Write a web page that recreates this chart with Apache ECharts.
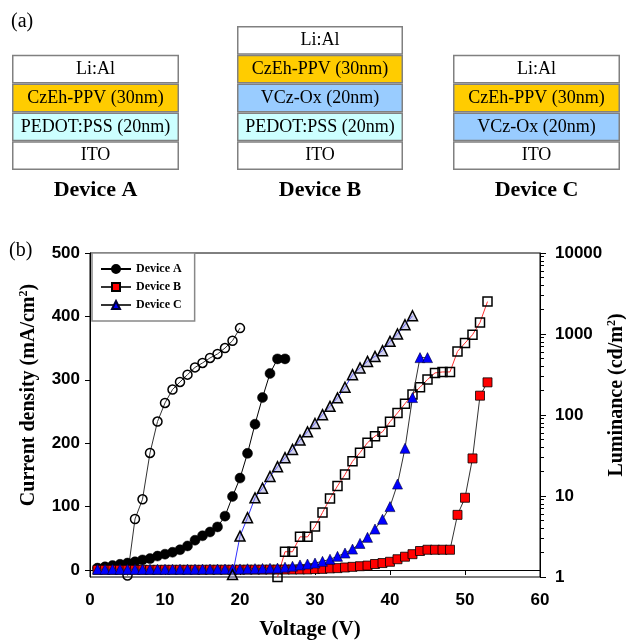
<!DOCTYPE html>
<html><head><meta charset="utf-8">
<script src="https://cdn.jsdelivr.net/npm/echarts@6/dist/echarts.min.js"></script>
<style>html,body{margin:0;padding:0;background:#fff}#c{width:626px;height:643px}</style>
</head><body><div id="c"></div>
<script>
// ---------- (a) device structures ----------
const deviceNames = ['Device A', 'Device B', 'Device C'];
const layersA = ['ITO', 'PEDOT:PSS (20nm)', 'CzEh-PPV (30nm)', 'Li:Al'];
const layersB = ['ITO', 'PEDOT:PSS (20nm)', 'VCz-Ox (20nm)', 'CzEh-PPV (30nm)', 'Li:Al'];
const layersC = ['ITO', 'VCz-Ox (20nm)', 'CzEh-PPV (30nm)', 'Li:Al'];
const layerUnit = 1;

// ---------- (b) axes ----------
const xTicks = [0, 10, 20, 30, 40, 50, 60];
const jTicks = [0, 100, 200, 300, 400, 500];
const lumMinorTicks = [2,3,4,5,6,7,8,9,20,30,40,50,60,70,80,90,200,300,400,500,600,700,800,900,2000,3000,4000,5000,6000,7000,8000,9000];

// ---------- (b) data ----------
// Device A current density (mA/cm2)
const vA_J = [1,2,3,4,5,6,7,8,9,10,11,12,13,14,15,16,17,18,19,20,21,22,23,24,25,26];
const jA   = [3,5,7,9,11,13,16,18,22,25,28,32,38,47,54,60,68,85,116,145,184,230,272,310,333,333];
// Device A luminance (cd/m2)
const vA_L = [5,6,7,8,9,10,11,12,13,14,15,16,17,18,19,20];
const lumA = [1.04,5.2,9.1,34,83,141,206,256,315,387,439,506,567,671,826,1183];

// Device B current density
const vB_J = [1,2,3,4,5,6,7,8,9,10,11,12,13,14,15,16,17,18,19,20,21,22,23,24,25,26,27,28,29,30,31,32,33,34,35,36,37,38,39,40,41,42,43,44,45,46,47,48,49,50,51,52,53];
const jB   = [0.3,0.3,0.3,0.3,0.3,0.3,0.3,0.3,0.3,0.4,0.4,0.4,0.4,0.4,0.4,0.5,0.5,0.5,0.5,0.5,0.6,0.6,0.6,0.7,0.7,0.8,0.8,0.9,1,1.5,1.8,2.6,3,4,5,6,7,9.5,11,13,17,21,25,30,32,32,32,32,87,114,176,275,296];
// Device B luminance
const vB_L = [25,26,27,28,29,30,31,32,33,34,35,36,37,38,39,40,41,42,43,44,45,46,47,48,49,50,51,52,53];
const lumB = [1,2.05,2.05,3.13,3.13,4.2,6.25,9.3,13.3,18.4,26.8,34.3,45.5,54.8,62,82.5,106,138,179,220,274,331,340,340,610,773,979,1387,2513];

// Device C current density
const vC_J = [1,2,3,4,5,6,7,8,9,10,11,12,13,14,15,16,17,18,19,20,21,22,23,24,25,26,27,28,29,30,31,32,33,34,35,36,37,38,39,40,41,42,43,44,45];
const jC   = [1.2,1.2,1.2,1.2,1.2,1.2,1.2,1.3,1.3,1.3,1.3,1.4,1.4,1.4,1.5,1.5,1.5,1.6,1.6,1.7,2,2.2,2.5,2.8,3,4.5,6,8,9.5,11,13.7,17,21.6,26.8,33,42,51.5,64.7,80,100,135.6,192,272,335,335];
// Device C luminance
const vC_L = [19,20,21,22,23,24,25,26,27,28,29,30,31,32,33,34,35,36,37,38,39,40,41,42,43];
const lumC = [1.07,3.2,5.4,9.5,12.5,17.4,23,29.7,37.6,49,62,78.6,101,128,163,220,315,381,459,529,622,811,1000,1300,1679];

// ---------- build ----------
const SERIF = 'Liberation Serif';
const SANS = 'Liberation Sans';
function zip(xs, ys) { return xs.map((x, i) => [x, ys[i]]); }
function layerColor(name) {
  if (name.startsWith('CzEh')) return '#ffcc00';
  if (name.startsWith('PEDOT')) return '#ccffff';
  if (name.startsWith('VCz')) return '#99ccff';
  return '#ffffff';
}
const stacks = [layersA, layersB, layersC];
const diagramGrids = [
  {left: 12, width: 167, top: 26, height: 144, outerBoundsMode: 'none'},
  {left: 237, width: 166, top: 26, height: 144, outerBoundsMode: 'none'},
  {left: 453, width: 167, top: 26, height: 144, outerBoundsMode: 'none'}
];
const grids = diagramGrids.concat([{left: 90, right: 86, top: 253, bottom: 66, show: true, borderColor: '#000', borderWidth: 1, outerBoundsMode: 'none', containLabel: false}]);

const xAxes = deviceNames.map((d, i) => ({
  type: 'category', gridIndex: i, data: [d],
  axisLine: {show: false}, axisTick: {show: false},
  axisLabel: {fontFamily: SERIF, fontWeight: 'bold', fontSize: 22, color: '#000', margin: 9}
}));
xAxes.push({
  type: 'value', gridIndex: 3, min: 0, max: 60, interval: 10,
  name: 'Voltage (V)', nameLocation: 'middle', nameGap: 42, nameMoveOverlap: false,
  nameTextStyle: {fontFamily: SERIF, fontWeight: 'bold', fontSize: 21, color: '#000', padding: [0, 10, 0, 0]},
  axisLine: {lineStyle: {color: '#000', width: 1}},
  axisTick: {length: 5, lineStyle: {color: '#000'}},
  axisLabel: {fontFamily: SANS, fontWeight: 'bold', fontSize: 17, color: '#000', margin: 15},
  splitLine: {show: false}
});

const yAxes = deviceNames.map((d, i) => ({type: 'value', gridIndex: i, min: 0, max: 5, show: false}));
yAxes.push({
  type: 'value', gridIndex: 3, min: -11, max: 500, position: 'left',
  name: 'Current density (mA/cm{sup|2})', nameLocation: 'middle', nameGap: 50, nameRotate: 90, nameMoveOverlap: false,
  nameTextStyle: {fontFamily: SERIF, fontWeight: 'bold', fontSize: 20, color: '#000', padding: [0, 0, 0, 40],
    rich: {sup: {fontFamily: SERIF, fontWeight: 'bold', fontSize: 12, color: '#000', padding: [0, 0, 10, 0]}}},
  axisLine: {show: true, lineStyle: {color: '#000', width: 1}},
  axisTick: {show: true, length: 5, customValues: jTicks, lineStyle: {color: '#000'}},
  axisLabel: {customValues: jTicks, fontFamily: SANS, fontWeight: 'bold', fontSize: 17, color: '#000', margin: 10},
  splitLine: {show: false}
});
yAxes.push({
  type: 'log', logBase: 10, gridIndex: 3, min: 1, max: 10000, position: 'right',
  name: 'Luminance (cd/m{sup|2})', nameLocation: 'middle', nameGap: 66, nameRotate: 90, nameMoveOverlap: false,
  nameTextStyle: {fontFamily: SERIF, fontWeight: 'bold', fontSize: 20, color: '#000', padding: [0, 0, 0, 40],
    rich: {sup: {fontFamily: SERIF, fontWeight: 'bold', fontSize: 12, color: '#000', padding: [0, 0, 10, 0]}}},
  axisLine: {show: true, lineStyle: {color: '#000', width: 1}},
  axisTick: {show: true, length: 6, lineStyle: {color: '#000'}},
  axisLabel: {fontFamily: SANS, fontWeight: 'bold', fontSize: 17, color: '#000', margin: 15, formatter: v => String(v)},
  splitLine: {show: false}
});
yAxes.push({
  type: 'log', logBase: 10, gridIndex: 3, min: 1, max: 10000, position: 'right',
  axisLine: {show: false},
  axisTick: {show: true, length: 4, customValues: lumMinorTicks, lineStyle: {color: '#000'}},
  axisLabel: {show: false}, splitLine: {show: false}
});

const series = [];
stacks.forEach((layers, gi) => {
  layers.forEach(name => {
    series.push({
      type: 'bar', name: name, xAxisIndex: gi, yAxisIndex: gi, stack: 'dev' + gi,
      barWidth: '100%', data: [layerUnit], silent: true,
      itemStyle: {color: layerColor(name), borderColor: '#808080', borderWidth: 1.5},
      label: {show: true, position: 'inside', formatter: name, fontFamily: SERIF, fontSize: 18, color: '#000'}
    });
  });
});

const lineBase = {type: 'line', xAxisIndex: 3, animation: false};
series.push(Object.assign({}, lineBase, {
  name: 'Device A', yAxisIndex: 3, data: zip(vA_J, jA), symbol: 'circle', symbolSize: 10,
  itemStyle: {color: '#000', borderColor: '#000', borderWidth: 0.5}, lineStyle: {color: '#000', width: 1}, z: 3
}));
series.push(Object.assign({}, lineBase, {
  name: 'Device A luminance', yAxisIndex: 4, data: zip(vA_L, lumA), symbol: 'circle', symbolSize: 9,
  itemStyle: {color: 'rgba(255,255,255,0)', borderColor: '#000', borderWidth: 1.5}, lineStyle: {color: '#333', width: 1}, z: 3
}));
series.push(Object.assign({}, lineBase, {
  name: 'Device B', yAxisIndex: 3, data: zip(vB_J, jB), symbol: 'rect', symbolSize: 9,
  itemStyle: {color: '#ff0000', borderColor: '#000', borderWidth: 0.8}, lineStyle: {color: '#333', width: 1}, z: 4
}));
series.push(Object.assign({}, lineBase, {
  name: 'Device B luminance', yAxisIndex: 4, data: zip(vB_L, lumB), symbol: 'rect', symbolSize: 9,
  itemStyle: {color: 'rgba(255,255,255,0)', borderColor: '#000', borderWidth: 1.5}, lineStyle: {color: '#ff3030', width: 1}, z: 4
}));
series.push(Object.assign({}, lineBase, {
  name: 'Device C', yAxisIndex: 3, data: zip(vC_J, jC), symbol: 'triangle', symbolSize: 10,
  itemStyle: {color: '#0000ff', borderColor: '#000033', borderWidth: 0.6}, lineStyle: {color: '#333', width: 1}, z: 5
}));
series.push(Object.assign({}, lineBase, {
  name: 'Device C luminance', yAxisIndex: 4, data: zip(vC_L, lumC), symbol: 'triangle', symbolSize: 10,
  itemStyle: {color: 'rgba(150,150,210,0.45)', borderColor: '#000', borderWidth: 1.5}, lineStyle: {color: '#3030ff', width: 1}, z: 5
}));

const option = {
  animation: false,
  backgroundColor: '#fff',
  title: [
    {text: '(a)', left: 11, top: 12, padding: 0, textStyle: {fontFamily: SERIF, fontWeight: 'normal', fontSize: 20, color: '#000'}},
    {text: '(b)', left: 9, top: 241, padding: 0, textStyle: {fontFamily: SERIF, fontWeight: 'normal', fontSize: 20, color: '#000'}}
  ],
  legend: {
    data: deviceNames, left: 92, top: 253, orient: 'vertical',
    padding: [10, 13, 10, 8], itemGap: 6, itemWidth: 30, itemHeight: 10,
    borderColor: '#888', borderWidth: 1.5, backgroundColor: '#fff',
    textStyle: {fontFamily: SERIF, fontWeight: 'bold', fontSize: 12, color: '#000'}
  },
  grid: grids,
  xAxis: xAxes,
  yAxis: yAxes,
  series: series
};
const chart = echarts.init(document.getElementById('c'), null, {renderer: 'canvas'});
chart.setOption(option);
</script></body></html>
